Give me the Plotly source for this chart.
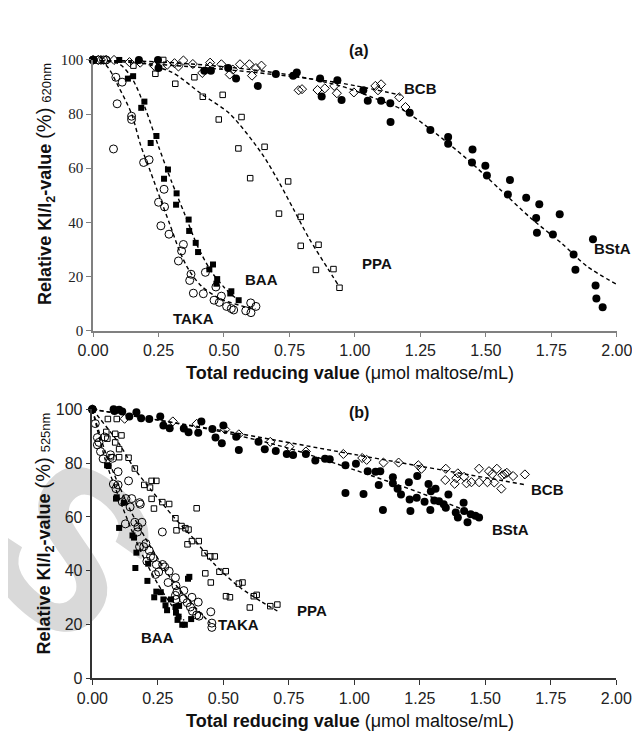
import base64
import plotly.graph_objects as go

# ---------------- Panel (a) : 620 nm ----------------
a_bsta_x = [0, 0.175, 0.248, 0.25, 0.425, 0.45, 0.516, 0.546, 0.629, 0.698, 0.764, 0.778, 0.867, 0.873, 0.933, 0.949,
            1.032, 1.049, 1.1, 1.135, 1.136, 1.209, 1.288, 1.356, 1.356, 1.449, 1.447, 1.498, 1.504, 1.592, 1.584,
            1.654, 1.704, 1.692, 1.695, 1.756, 1.782, 1.835, 1.842, 1.909, 1.919, 1.922, 1.946]
a_bsta_y = [100, 100, 100, 97, 96, 96, 97, 93.1, 90.4, 94.8, 94.2, 95.4, 93.1, 86.5, 92.5, 85.2,
            88.8, 84.9, 84.9, 84, 77.1, 80.5, 74.1, 71.5, 69, 66.9, 62.1, 60.9, 57.3, 55.6, 50.3,
            49.1, 46.7, 41.6, 36.1, 35.5, 43, 28.1, 22.5, 33.7, 16.6, 11.8, 8.6]
a_bsta_fit_x = [0, 0.25, 0.5, 0.75, 0.944, 1.066, 1.187, 1.308, 1.429, 1.55, 1.671, 1.792, 1.888, 2.0]
a_bsta_fit_y = [100, 99.3, 97.5, 94.5, 90.4, 86.2, 81.3, 72.9, 63.3, 52.5, 41.6, 32, 23.6, 17]

a_bcb_x = [0, 0.02, 0.03, 0.05, 0.08, 0.139, 0.18, 0.234, 0.283, 0.311, 0.326, 0.345, 0.381, 0.417, 0.447, 0.447,
           0.49, 0.522, 0.534, 0.561, 0.597, 0.607, 0.622, 0.643, 0.785, 0.798, 0.857, 0.885, 0.921, 0.931,
           0.996, 1.078, 1.1, 1.088, 1.169, 1.193]
a_bcb_y = [100, 100, 100, 100, 100, 99.2, 99, 97.8, 98.2, 98.8, 97.6, 99.8, 98.5, 95.2, 99, 97.6,
           98.4, 94.6, 96.4, 98.4, 98.4, 94.2, 97, 97.9, 88.8, 89.2, 88.9, 89.5, 90.4, 87.7,
           88, 90.4, 91, 88.8, 86.2, 82.6]
a_bcb_fit_x = [0, 0.5, 0.875, 1.0, 1.175]
a_bcb_fit_y = [100, 96.5, 92.5, 90.5, 87]

a_ppa_x = [0, 0.154, 0.238, 0.268, 0.314, 0.387, 0.419, 0.48, 0.495, 0.555, 0.567, 0.6, 0.655, 0.71, 0.745,
           0.793, 0.793, 0.851, 0.861, 0.918, 0.941]
a_ppa_y = [100, 97.9, 94.9, 100, 91.2, 93.6, 86.4, 78, 87.1, 67.3, 78.9, 56.3, 67.9, 43.2, 55.1,
           42, 31.3, 22.4, 31.7, 22.7, 15.8]
a_ppa_fit_x = [0, 0.15, 0.3, 0.414, 0.522, 0.643, 0.704, 0.764, 0.824, 0.897, 0.935]
a_ppa_fit_y = [100, 99.5, 95.5, 87.4, 80.1, 65.6, 55.9, 45.1, 34.2, 22.8, 17]

a_baa_x = [0, 0.1, 0.133, 0.153, 0.184, 0.196, 0.22, 0.242, 0.271, 0.286, 0.317, 0.319, 0.365, 0.367, 0.392,
           0.401, 0.444, 0.458, 0.471, 0.474, 0.524, 0.528, 0.556]
a_baa_y = [100, 100, 93.1, 94, 82.3, 84.6, 69.3, 71.9, 56.1, 59.5, 46.5, 50.7, 41, 36.8, 32.4,
           29, 22.6, 24.4, 17.3, 19, 13.7, 14.5, 11.2]
a_baa_fit_x = [0, 0.1, 0.15, 0.2, 0.25, 0.3, 0.35, 0.4, 0.45, 0.5, 0.556]
a_baa_fit_y = [100, 98.5, 93, 82, 68, 55, 43, 31, 22, 16, 11]

a_taka_x = [0, 0.02, 0.04, 0.05, 0.078, 0.087, 0.092, 0.111, 0.147, 0.147, 0.193, 0.214, 0.25, 0.259, 0.271,
            0.273, 0.29, 0.326, 0.338, 0.345, 0.369, 0.374, 0.383, 0.421, 0.429, 0.462, 0.469, 0.482, 0.49,
            0.51, 0.528, 0.537, 0.583, 0.603, 0.602, 0.622]
a_taka_y = [100, 100, 100, 100, 67.1, 93.6, 83.8, 91.8, 79.2, 78, 62.1, 63.1, 47.4, 38.7, 52.2,
            45.7, 35.6, 25.7, 29.4, 31.8, 18.5, 20.8, 13.8, 13.6, 21.5, 11.2, 16.1, 10.4, 12.7,
            8.9, 8.1, 7.6, 7.3, 6.6, 10.2, 8.9]
a_taka_fit_x = [0, 0.05, 0.099, 0.147, 0.183, 0.22, 0.256, 0.293, 0.329, 0.365, 0.413, 0.486, 0.583, 0.62]
a_taka_fit_y = [100, 98, 89.8, 80.1, 68.1, 58.5, 48.9, 39.3, 29.7, 22.5, 16.5, 11.7, 8.7, 8]

# ---------------- Panel (b) : 525 nm ----------------
b_bsta_x = [0, 0.081, 0.084, 0.102, 0.114, 0.141, 0.168, 0.186, 0.217, 0.259,
            0.271, 0.295, 0.349, 0.367, 0.404, 0.416, 0.458, 0.47, 0.494, 0.5,
            0.559, 0.549, 0.634, 0.658, 0.7, 0.742, 0.766, 0.815, 0.851, 0.888,
            0.906, 0.966, 0.966, 1.006, 1.035, 1.051, 1.081, 1.099, 1.093, 1.109,
            1.147, 1.147, 1.165, 1.178, 1.208, 1.211, 1.214, 1.238, 1.24, 1.268,
            1.283, 1.29, 1.292, 1.31, 1.305, 1.323, 1.341, 1.359, 1.349, 1.387,
            1.395, 1.417, 1.419, 1.432, 1.444, 1.462, 1.476]
b_bsta_y = [100, 100, 99.4, 99.8, 99.2, 97.3, 98.9, 96.7, 96.4, 97.3,
            94, 93, 92.9, 91.5, 91.3, 95.5, 92.7, 89.5, 87.4, 94,
            84.9, 89.8, 87.9, 85.2, 84.5, 83.4, 83, 83.4, 81, 81.6,
            81.4, 79.2, 68.9, 79.8, 68.5, 77, 76.8, 77, 71.9, 62.6,
            74.7, 72.5, 70.5, 68.3, 72.9, 66.5, 62.2, 67.1, 75.2, 65.6,
            72.2, 62.6, 69.5, 70.5, 66.1, 65.8, 64.7, 68.3, 63.4, 61.6,
            59.8, 65.3, 62.2, 58, 61, 60.4, 59.8]
b_bsta_fit_x = [0, 0.25, 0.5, 0.75, 1.0, 1.25, 1.486]
b_bsta_fit_y = [100, 96, 91.5, 85.5, 77.5, 69, 60]

b_bcb_x = [0, 0.123, 0.307, 0.398, 0.507, 0.559, 0.679, 0.752, 0.815, 0.958,
           1.03, 1.047, 1.111, 1.169, 1.244, 1.256, 1.349, 1.347, 1.395, 1.389,
           1.383, 1.419, 1.428, 1.447, 1.476, 1.476, 1.508, 1.514, 1.526, 1.534,
           1.544, 1.561, 1.565, 1.574, 1.582, 1.606, 1.651]
b_bcb_y = [100, 96.5, 95.5, 94.6, 92.5, 90.7, 87.9, 86.1, 84.3, 83.4,
           81.9, 81.2, 80.2, 80.2, 79.2, 77.9, 77.9, 73.7, 76.2, 74.4,
           72.3, 74.9, 72.5, 72.9, 77.9, 72.9, 72.9, 77, 75.9, 72.8,
           77.9, 70.5, 75.5, 75.9, 76.4, 75.2, 75.8]
b_bcb_fit_x = [0, 0.5, 1.0, 1.65]
b_bcb_fit_y = [100, 92, 83.2, 72]

b_ppa_x = [0, 0.059, 0.093, 0.053, 0.057, 0.087, 0.111, 0.087, 0.102, 0.071,
           0.102, 0.138, 0.162, 0.198, 0.22, 0.226, 0.244, 0.226, 0.235, 0.267,
           0.293, 0.317, 0.321, 0.34, 0.355, 0.367, 0.363, 0.38, 0.398, 0.406,
           0.428, 0.45, 0.467, 0.431, 0.452, 0.485, 0.509, 0.559, 0.573, 0.51,
           0.525, 0.601, 0.616, 0.627, 0.679, 0.706]
b_ppa_y = [100, 96.4, 96.4, 91.6, 89.1, 90.9, 90.3, 87.7, 85.2, 82.2,
           82.2, 82, 78, 71.9, 70.9, 73.4, 73.4, 66.7, 63.1, 65.5,
           64.8, 59.5, 55, 56.6, 55.8, 55.3, 49.8, 51, 63.2, 51,
           46.5, 45.3, 45.3, 39, 35.6, 39.6, 39.8, 35.2, 35.6, 30.5,
           30.1, 26.3, 30.5, 31, 26.8, 27.4]
b_ppa_fit_x = [0, 0.1, 0.16, 0.22, 0.31, 0.39, 0.46, 0.56, 0.645, 0.706]
b_ppa_fit_y = [100, 87.5, 78, 70.5, 60, 51.5, 43, 34, 28.5, 25]

b_taka_x = [0, 0.011, 0.019, 0.025, 0.019, 0.031, 0.041, 0.047, 0.069, 0.08,
            0.077, 0.098, 0.098, 0.09, 0.128, 0.138, 0.114, 0.126, 0.15, 0.144,
            0.162, 0.172, 0.18, 0.183, 0.189, 0.174, 0.18, 0.196, 0.204, 0.208,
            0.217, 0.222, 0.232, 0.241, 0.253, 0.244, 0.267, 0.268, 0.276, 0.293,
            0.289, 0.317, 0.319, 0.323, 0.349, 0.317, 0.319, 0.347, 0.38, 0.362,
            0.374, 0.382, 0.404, 0.407, 0.398, 0.452, 0.456, 0.456]
b_taka_y = [100, 94.7, 89.5, 87.7, 86.8, 84.3, 81.6, 89.7, 83.1, 72.2,
            81.8, 76.8, 71.9, 70.5, 66.8, 73.4, 65.6, 57.4, 66.8, 63.7,
            58, 54.4, 65.3, 64.7, 58, 56.2, 48.9, 48.9, 50.1, 43.5,
            47.5, 45.3, 44.7, 38.6, 39.5, 42.3, 54.4, 42.3, 41.4, 39.8,
            35.6, 37.4, 34.4, 32.2, 32.6, 30.8, 29.3, 29.5, 30.1, 28.1,
            26.5, 24.9, 28.3, 23.1, 23.5, 24.7, 20.5, 18.9]
b_taka_fit_x = [0, 0.05, 0.1, 0.15, 0.2, 0.25, 0.3, 0.35, 0.4, 0.45]
b_taka_fit_y = [100, 84, 72, 61.5, 52.5, 44.5, 37, 31, 25.5, 20.5]

b_baa_x = [0, 0.056, 0.062, 0.093, 0.09, 0.12, 0.102, 0.153, 0.159, 0.168,
           0.164, 0.213, 0.21, 0.244, 0.261, 0.236, 0.271, 0.279, 0.3, 0.285,
           0.317, 0.331, 0.319, 0.329, 0.325, 0.343, 0.353, 0.377, 0.365, 0.37]
b_baa_y = [100, 79.2, 78.9, 67.3, 66.8, 65.3, 55.9, 53.1, 52.3, 46.7,
           41, 42.6, 36.2, 32.2, 32, 30.1, 29.3, 27.1, 29.3, 25.3,
           26.5, 26.9, 24.4, 22.9, 21.7, 19.9, 19.9, 22, 37, 37.7]
b_baa_fit_x = [0, 0.05, 0.1, 0.15, 0.2, 0.25, 0.3, 0.35]
b_baa_fit_y = [100, 81, 67.5, 55, 44, 35, 27.5, 21.5]

x_tickvals = [0, 0.25, 0.5, 0.75, 1.0, 1.25, 1.5, 1.75, 2.0]
x_ticktext = ["0.00", "0.25", "0.50", "0.75", "1.00", "1.25", "1.50", "1.75", "2.00"]
y_tickvals = [0, 20, 40, 60, 80, 100]

labels_a = [("BCB", 1.252, 89.5), ("BStA", 1.985, 30.2), ("PPA", 1.085, 24.8), ("BAA", 0.644, 18.8), ("TAKA", 0.385, 4.3)]
labels_b = [("BCB", 1.736, 70.1), ("BStA", 1.595, 55.3), ("PPA", 0.839, 25.3), ("TAKA", 0.557, 19.9), ("BAA", 0.247, 15.0)]

W, H = 640, 731
fig = go.Figure()

DASH = "4px,3px"


def fit(x, y, xa, ya):
    fig.add_trace(go.Scatter(x=x, y=y, mode="lines", xaxis=xa, yaxis=ya, cliponaxis=False,
                             line=dict(color="black", width=1.4, dash=DASH, shape="spline", smoothing=0.8),
                             hoverinfo="skip", showlegend=False))


def pts(x, y, xa, ya, symbol, size, lw=1.0):
    fig.add_trace(go.Scatter(x=x, y=y, mode="markers", xaxis=xa, yaxis=ya, cliponaxis=False,
                             marker=dict(symbol=symbol, size=size, color="black", line=dict(color="black", width=lw)),
                             showlegend=False))


# panel (a)
for fx, fy in [(a_bsta_fit_x, a_bsta_fit_y), (a_bcb_fit_x, a_bcb_fit_y), (a_ppa_fit_x, a_ppa_fit_y),
               (a_baa_fit_x, a_baa_fit_y), (a_taka_fit_x, a_taka_fit_y)]:
    fit(fx, fy, "x", "y")
pts(a_bsta_x, a_bsta_y, "x", "y", "circle", 8, 0)
pts(a_bcb_x, a_bcb_y, "x", "y", "diamond-open", 7, 1)
pts(a_ppa_x, a_ppa_y, "x", "y", "square-open", 5.5, 1)
pts(a_baa_x, a_baa_y, "x", "y", "square", 6, 0)
pts(a_taka_x, a_taka_y, "x", "y", "circle-open", 8, 1)

# panel (b)
for fx, fy in [(b_bsta_fit_x, b_bsta_fit_y), (b_bcb_fit_x, b_bcb_fit_y), (b_ppa_fit_x, b_ppa_fit_y),
               (b_baa_fit_x, b_baa_fit_y), (b_taka_fit_x, b_taka_fit_y)]:
    fit(fx, fy, "x2", "y2")
pts(b_bsta_x, b_bsta_y, "x2", "y2", "circle", 8, 0)
pts(b_bcb_x, b_bcb_y, "x2", "y2", "diamond-open", 7, 1)
pts(b_ppa_x, b_ppa_y, "x2", "y2", "square-open", 5.5, 1)
pts(b_baa_x, b_baa_y, "x2", "y2", "square", 6, 0)
pts(b_taka_x, b_taka_y, "x2", "y2", "circle-open", 8, 1)


def px_x(p):
    return p / W


def px_y(p):
    return 1 - p / H


SANS = "Liberation Sans, Arial, sans-serif"
SERIF = "Liberation Serif, Times New Roman, serif"


def xaxis(dom, anchor, color):
    return dict(domain=dom, range=[0, 2], anchor=anchor, tickvals=x_tickvals, ticktext=x_ticktext,
                ticks="outside", ticklen=5, tickwidth=1.2, tickcolor=color, showline=True, linecolor=color,
                linewidth=1.5, showgrid=False, zeroline=False, tickfont=dict(family=SANS, size=16, color="#222"),
                fixedrange=True)


def yaxis(dom, anchor, color, fam, fs):
    return dict(domain=dom, range=[0, 100], anchor=anchor, tickvals=y_tickvals, ticks="outside", ticklen=5,
                tickwidth=1.2, tickcolor=color, showline=True, linecolor=color, linewidth=1.5, showgrid=False,
                zeroline=False, tickfont=dict(family=fam, size=fs, color="#222"), fixedrange=True)


fig.update_layout(
    width=W, height=H, autosize=False, margin=dict(l=0, r=0, t=0, b=0),
    paper_bgcolor="white", plot_bgcolor="rgba(0,0,0,0)", showlegend=False,
    xaxis=xaxis([px_x(72.7), px_x(624)], "y", "#808080"),
    yaxis=yaxis([px_y(322), px_y(45)], "x", "#808080", SERIF, 15),
    xaxis2=xaxis([px_x(72), px_x(623.5)], "y2", "#333"),
    yaxis2=yaxis([px_y(678), px_y(402.7)], "x2", "#333", SANS, 16),
)

ann = []
for t, x, y in labels_a:
    ann.append(dict(text="<b>" + t + "</b>", x=x, y=y, xref="x", yref="y", showarrow=False,
                    font=dict(family=SANS, size=15, color="#111"), xanchor="center", yanchor="middle"))
for t, x, y in labels_b:
    ann.append(dict(text="<b>" + t + "</b>", x=x, y=y, xref="x2", yref="y2", showarrow=False,
                    font=dict(family=SANS, size=15, color="#111"), xanchor="center", yanchor="middle"))

ann.append(dict(text="<b>(a)</b>", x=px_x(353), y=px_y(25), xref="paper", yref="paper", showarrow=False,
                font=dict(family=SANS, size=16, color="#111")))
ann.append(dict(text="<b>(b)</b>", x=px_x(353), y=px_y(406), xref="paper", yref="paper", showarrow=False,
                font=dict(family=SANS, size=16, color="#111")))

xtitle = "<b>Total reducing value</b> (μmol maltose/mL)"
for yy in (365, 722):
    ann.append(dict(text=xtitle, x=px_x(343), y=px_y(yy), xref="paper", yref="paper", showarrow=False,
                    font=dict(family=SANS, size=18, color="#111"), xanchor="center", yanchor="middle"))

for nm, yy in (("620nm", 172), ("525nm", 530)):
    ytitle = ("<b>Relative KI/I<sub>2</sub>-value</b> <span style='font-size:20px'>(%)</span> "
              "<span style='font-size:13px'>" + nm + "</span>")
    ann.append(dict(text=ytitle, x=px_x(22), y=px_y(yy), xref="paper", yref="paper", showarrow=False,
                    textangle=-90, font=dict(family=SANS, size=18, color="#111"),
                    xanchor="center", yanchor="middle"))

fig.update_layout(annotations=ann)

# faint watermark behind panel (b)
svg = ("<svg xmlns='http://www.w3.org/2000/svg' width='300' height='300' viewBox='0 0 300 300'>"
       "<text x='150' y='257' text-anchor='middle' font-family='Liberation Sans, Arial, sans-serif' "
       "font-weight='bold' font-size='300' fill='#d9d9d9' transform='rotate(42 150 150)'>S</text></svg>")
src = "data:image/svg+xml;base64," + base64.b64encode(svg.encode()).decode()
size = 230
cx, cy = 50, 543
fig.add_layout_image(dict(source=src, xref="paper", yref="paper", x=px_x(cx - size / 2), y=px_y(cy - size / 2),
                          sizex=size / W, sizey=size / H, xanchor="left", yanchor="top", sizing="stretch",
                          layer="below"))

fig.write_html("out.html")
